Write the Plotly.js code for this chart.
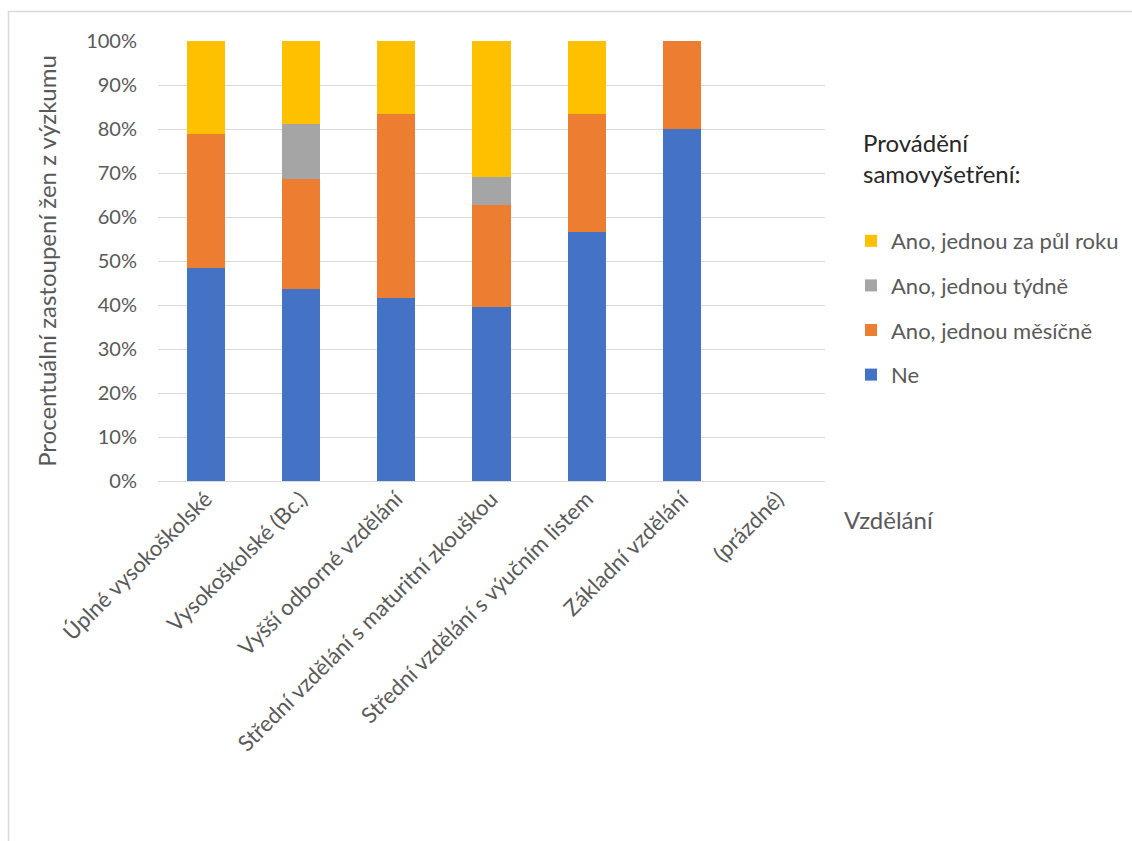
<!DOCTYPE html>
<html>
<head>
<meta charset="utf-8">
<script src="https://cdn.plot.ly/plotly-3.0.1.min.js"></script>
<style>html,body{margin:0;padding:0;background:#fff;}#chart{width:1132px;height:841px;}</style>
</head>
<body>
<div id="chart"></div>
<script>
const categories = ["Úplné vysokoškolské", "Vysokoškolské (Bc.)", "Vyšší odborné vzdělání", "Střední vzdělání s maturitní zkouškou", "Střední vzdělání s výučním listem", "Základní vzdělání", "(prázdné)"];
const ne = [48.5, 43.75, 41.7, 39.6, 56.7, 80, null];
const mesicne = [30.3, 25.0, 41.6, 23.2, 26.6, 20, null];
const tydne = [0, 12.5, 0, 6.4, 0, 0, null];
const pulRoku = [21.2, 18.75, 16.7, 30.8, 16.7, 0, null];
const seriesNames = ["Ne", "Ano, jednou měsíčně", "Ano, jednou týdně", "Ano, jednou za půl roku"];
const yTickVals = [0, 10, 20, 30, 40, 50, 60, 70, 80, 90, 100];
const yTickText = ["0%", "10%", "20%", "30%", "40%", "50%", "60%", "70%", "80%", "90%", "100%"];

const colors = ["#4472C4", "#ED7D31", "#A5A5A5", "#FFC000"];
const seriesData = [ne, mesicne, tydne, pulRoku];
const FONT = "Lato, 'Open Sans', sans-serif";
const GREY = "#595959";

const traces = seriesData.map((vals, i) => ({
  type: "bar",
  name: seriesNames[i],
  x: categories,
  y: vals,
  legendgroup: "g" + i,
  legendrank: 10 - i,
  marker: {color: colors[i], line: {width: 0}},
  hoverinfo: "x+y+name"
}));

const layout = {
  width: 1132, height: 841,
  barmode: "stack",
  bargap: 0.6,
  paper_bgcolor: "#ffffff",
  plot_bgcolor: "#ffffff",
  font: {family: FONT, color: GREY, size: 20},
  margin: {l: 158, r: 307, t: 41, b: 360, autoexpand: false},
  xaxis: {
    type: "category",
    categoryorder: "array",
    categoryarray: categories,
    range: [-0.5, 6.5],
    tickangle: -45,
    tickfont: {family: FONT, size: 22, color: GREY},
    showgrid: false,
    showline: false,
    ticks: "",
    automargin: false
  },
  yaxis: {
    range: [0, 100],
    tickvals: yTickVals,
    ticktext: yTickText,
    tickfont: {family: FONT, size: 20, color: GREY},
    showgrid: true,
    gridcolor: "#D9D9D9",
    gridwidth: 1,
    zeroline: true,
    zerolinecolor: "#D9D9D9",
    zerolinewidth: 1,
    ticks: "",
    ticklabelstandoff: 20,
    automargin: false,
    title: {text: "Procentuální zastoupení žen z výzkumu", font: {family: FONT, size: 24, color: GREY}, standoff: 22}
  },
  showlegend: true,
  legend: {
    xref: "paper",
    traceorder: "grouped",
    tracegroupgap: 13,
    font: {family: FONT, size: 22, color: GREY},
    bgcolor: "rgba(0,0,0,0)",
    yanchor: "top",
    xanchor: "left"
  },
  annotations: [
    {xref: "paper", yref: "paper", x: (861 - 158) / 667, y: (481 - 158) / 440, xanchor: "left", yanchor: "middle",
     text: "Provádění<br>samovyšetření:", align: "left", showarrow: false,
     font: {family: FONT, size: 24, color: "#262626"}},
    {xref: "paper", yref: "paper", x: (842 - 158) / 667, y: (481 - 519) / 440, xanchor: "left", yanchor: "middle",
     text: "Vzdělání", showarrow: false, font: {family: FONT, size: 24, color: GREY}}
  ],
  shapes: [
    {type: "rect", xref: "paper", yref: "paper",
     x0: (8.5 - 158) / 667, x1: (1140 - 158) / 667,
     y0: (481 - 850) / 440, y1: (481 - 11.5) / 440,
     line: {color: "#D9D9D9", width: 1.5}, fillcolor: "rgba(0,0,0,0)", layer: "below"}
  ]
};
layout.legend.x = (851 - 158) / 667;
layout.legend.y = (481 - 220) / 440;

Plotly.newPlot("chart", traces, layout, {displayModeBar: false});
</script>
</body>
</html>
